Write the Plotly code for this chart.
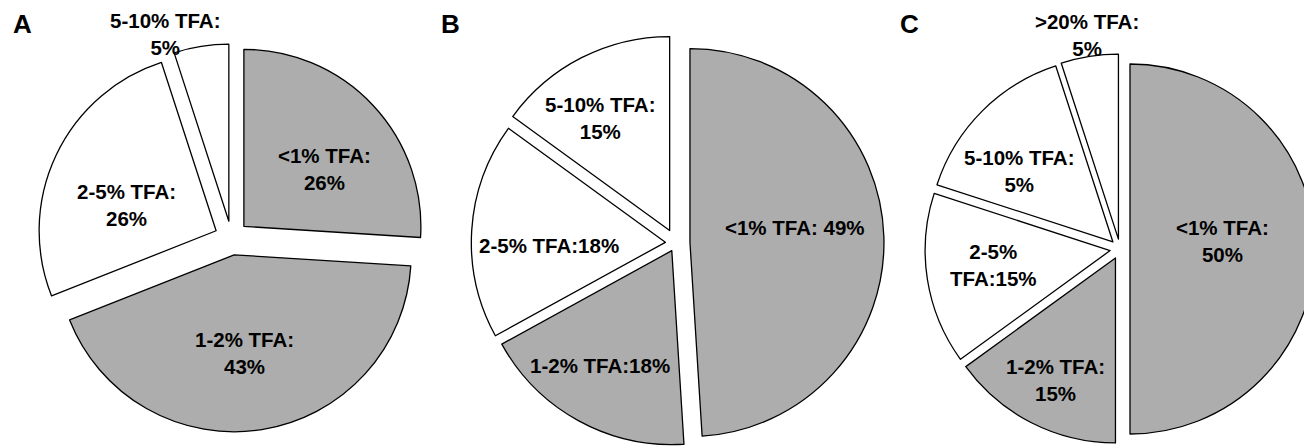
import plotly.graph_objects as go

# ---------------- data ----------------
a_categories = ["<1% TFA", "1-2% TFA", "2-5% TFA", "5-10% TFA"]
a_values = [26, 43, 26, 5]
a_texts = ["<1% TFA:<br>26%", "1-2% TFA:<br>43%", "2-5% TFA:<br>26%", "5-10% TFA:<br>5%"]

b_categories = ["<1% TFA", "1-2% TFA", "2-5% TFA", "5-10% TFA"]
b_values = [49, 18, 18, 15]
b_texts = ["<1% TFA: 49%", "1-2% TFA:18%", "2-5% TFA:18%", "5-10% TFA:<br>15%"]

c_categories = ["<1% TFA", "1-2% TFA", "2-5% TFA", "5-10% TFA", ">20% TFA"]
c_values = [50, 15, 15, 15, 5]
c_texts = ["<1% TFA:<br>50%", "1-2% TFA:<br>15%", "2-5%<br>TFA:15%", "5-10% TFA:<br>5%", ">20% TFA:<br>5%"]

panel_letters = ["A", "B", "C"]

# ---------------- layout / style ----------------
W, H = 1312, 447
OFF = 8  # page body margin in the browser
GRAY = "#ADADAD"
WHITE = "#FFFFFF"
FONT = "Liberation Sans, Arial, Helvetica, sans-serif"

# pie boxes in window pixels: centre x, centre y, radius, pull fractions per slice
pie_boxes = [
    (231.5, 238.0, 177.0, [0.096, 0.096, 0.096, 0.096]),
    (676.0, 243.0, 194.0, [0.072, 0.045, 0.055, 0.072]),
    (1120.0, 249.0, 185.0, [0.054, 0.054, 0.054, 0.054, 0.054]),
]
# label positions (window pixels) per slice
a_label_pos = [(324, 169), (244, 353), (126, 205), (165, 34)]
b_label_pos = [(795, 227), (600, 365), (549, 245), (600, 118)]
c_label_pos = [(1222, 241), (1055, 380), (993, 265), (1019, 171), (1087, 35)]
letter_pos = [(22, 24), (450, 24), (909, 24)]


def fx(px):
    return (px - OFF) / W


def fy(py):
    return 1 - (py - OFF) / H


def dom(cx, cy, r, pulls):
    half = r * (1 + max(pulls))
    x0 = max(0.0, fx(cx - half))
    x1 = min(1.0, fx(cx + half))
    y0 = max(0.0, fy(cy + half))
    y1 = min(1.0, fy(cy - half))
    return dict(x=[x0, x1], y=[y0, y1])


fig = go.Figure()
datasets = [
    (a_categories, a_values),
    (b_categories, b_values),
    (c_categories, c_values),
]
for (cats, vals), (cx, cy, r, pulls) in zip(datasets, pie_boxes):
    colors = [GRAY, GRAY] + [WHITE] * (len(vals) - 2)
    fig.add_trace(go.Pie(
        labels=cats, values=vals, sort=False, direction="clockwise", rotation=0,
        pull=pulls, textinfo="none", hoverinfo="label+percent", showlegend=False,
        marker=dict(colors=colors, line=dict(color="#000000", width=1.3)),
        domain=dom(cx, cy, r, pulls),
    ))

annotations = []
for texts, poss in [(a_texts, a_label_pos), (b_texts, b_label_pos), (c_texts, c_label_pos)]:
    for t, (px, py) in zip(texts, poss):
        annotations.append(dict(
            x=fx(px), y=fy(py), xref="paper", yref="paper",
            text="<b>" + t + "</b>", showarrow=False, xanchor="center", yanchor="middle",
            align="center", font=dict(family=FONT, size=20.5, color="#000000"),
        ))
for letter, (px, py) in zip(panel_letters, letter_pos):
    annotations.append(dict(
        x=fx(px), y=fy(py), xref="paper", yref="paper",
        text="<b>" + letter + "</b>", showarrow=False, xanchor="center", yanchor="middle",
        font=dict(family=FONT, size=26, color="#000000"),
    ))

fig.update_layout(
    width=W, height=H, margin=dict(l=0, r=0, t=0, b=0),
    paper_bgcolor="#FFFFFF", plot_bgcolor="#FFFFFF",
    annotations=annotations,
)

fig.write_html("out.html")
